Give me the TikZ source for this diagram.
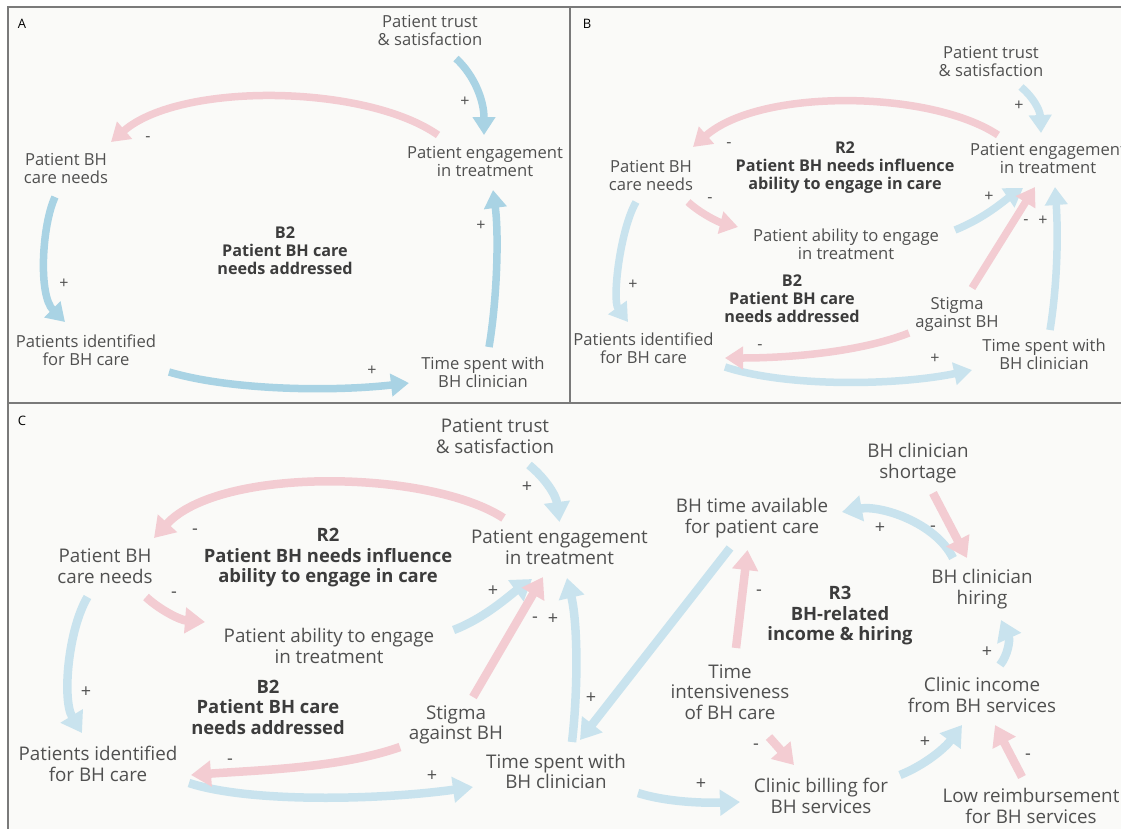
\documentclass[tikz,border=0pt]{standalone}
\usepackage{fontspec}
\setmainfont{Open Sans}
\usetikzlibrary{arrows.meta}
\definecolor{bgc}{HTML}{FAFAF8}
\definecolor{frm}{HTML}{7A7A7A}
\definecolor{bluA}{HTML}{A9D3E4}
\definecolor{blu}{HTML}{C9E3EE}
\definecolor{pnk}{HTML}{F3CCD2}
\definecolor{txt}{HTML}{505050}
\definecolor{btxt}{HTML}{3C3C3C}
\tikzset{
  lblS/.style={font=\fontsize{16.6}{18}\selectfont, align=center, text=txt, inner sep=0pt},
  lblL/.style={font=\fontsize{18.8}{20.5}\selectfont, align=center, text=txt, inner sep=0pt},
  boldS/.style={font=\fontsize{16.2}{18}\selectfont\bfseries, align=center, text=btxt, inner sep=0pt},
  boldL/.style={font=\fontsize{18.4}{20.5}\selectfont\bfseries, align=center, text=btxt, inner sep=0pt},
  sgnS/.style={font=\fontsize{16}{16}\selectfont, text=txt, inner sep=0pt},
  sgnL/.style={font=\fontsize{18}{18}\selectfont, text=txt, inner sep=0pt},
  panel/.style={font=\fontsize{13}{13}\selectfont, text=black, inner sep=0pt},
  arS/.style={line width=7.5pt, -{Triangle[width=22pt,length=18pt]}},
  arL/.style={line width=8.5pt, -{Triangle[width=25pt,length=20pt]}},
  bA/.style={arS, draw=bluA},
  bS/.style={arS, draw=blu},
  pS/.style={arS, draw=pnk},
  bL/.style={arL, draw=blu},
  pL/.style={arL, draw=pnk},
}
\begin{document}
\begin{tikzpicture}[x=1pt,y=-1pt]
\useasboundingbox (0,0) rectangle (1121,828);
\clip (0,0) rectangle (1121,828);
\fill[white] (0,0) rectangle (1121,828);
\filldraw[fill=bgc, draw=frm, line width=1.4pt] (8,7) rectangle (570,403);
\filldraw[fill=bgc, draw=frm, line width=1.4pt] (570,7) rectangle (1130,403);
\filldraw[fill=bgc, draw=frm, line width=1.4pt] (8,403) rectangle (1130,840);

% ---------------- Panel A ----------------
\node[panel] (labA) at (22,24) {A};
\node[lblS] (trustA) at (430,30.5) {Patient trust\\\& satisfaction};
\node[lblS] (engA) at (485,161) {Patient engagement\\in treatment};
\node[lblS] (needsA) at (66,168) {Patient BH\\care needs};
\node[lblS] (identA) at (86,350) {Patients identified\\for BH care};
\node[lblS] (timeA) at (483,372) {Time spent with\\BH clinician};
\node[boldS] (loopA) at (285,251) {B2\\Patient BH care\\needs addressed};

\draw[bA] ([shift={(26,28)}]trustA.center) .. controls (474,75) and (484,100) .. ([shift={(-1,-26)}]engA.center);
\draw[bA] ([shift={(-11,29)}]needsA.center) .. controls (42,225) and (38,295) .. ([shift={(-21,-28)}]identA.center);
\draw[bA] ([shift={(83,22)}]identA.center) .. controls (230,390) and (330,392) .. ([shift={(-74,11)}]timeA.center);
\draw[bA] ([shift={(6,-25)}]timeA.center) .. controls (497,300) and (499,235) .. ([shift={(8,29)}]engA.center);
\draw[pS] ([shift={(-47,-26)}]engA.center) .. controls (365,84) and (180,82) .. ([shift={(45,-26)}]needsA.center);

\node[sgnS] (sA1) at (465,102) {+};
\node[sgnS] (sA2) at (148,139) {-};
\node[sgnS] (sA3) at (64,284) {+};
\node[sgnS] (sA4) at (372,371) {+};
\node[sgnS] (sA5) at (481,226) {+};

% ---------------- Panel B ----------------
\node[panel] (labB) at (587,24) {B};
\node[lblS] (trustB) at (991,61) {Patient trust\\\& satisfaction};
\node[lblS] (engB) at (1048,158) {Patient engagement\\in treatment};
\node[lblS] (needsB) at (651,175) {Patient BH\\care needs};
\node[boldS] (r2B) at (845,168) {R2\\Patient BH needs influence\\ability to engage in care};
\node[lblS] (abilB) at (846,244.5) {Patient ability to engage\\in treatment};
\node[boldS] (b2B) at (792,299) {B2\\Patient BH care\\needs addressed};
\node[lblS] (stigB) at (957,314) {Stigma\\against BH};
\node[lblS] (identB) at (643.5,348.5) {Patients identified\\for BH care};
\node[lblS] (timeB) at (1044,354.5) {Time spent with\\BH clinician};

\draw[bS] ([shift={(30,26)}]trustB.center) .. controls (1033,97) and (1040,110) .. ([shift={(-7,-25)}]engB.center);
\draw[bS] ([shift={(-15,27)}]needsB.center) .. controls (620,230) and (612,300) .. ([shift={(-15.5,-26.5)}]identB.center);
\draw[bS] ([shift={(81.5,18.5)}]identB.center) .. controls (790,388) and (900,385) .. ([shift={(-72,15.5)}]timeB.center);
\draw[bS] ([shift={(109,-14.5)}]abilB.center) .. controls (985,218) and (1005,200) .. ([shift={(-25,30)}]engB.center);
\draw[bS] ([shift={(6,-24.5)}]timeB.center) .. controls (1058,280) and (1058,230) .. ([shift={(7,29)}]engB.center);
\draw[pS] ([shift={(-50,-23)}]engB.center) .. controls (930,90) and (760,88) .. ([shift={(42,-28)}]needsB.center);
\draw[pS] ([shift={(37,27)}]needsB.center) .. controls (700,213) and (718,222) .. ([shift={(-108,-17.5)}]abilB.center);
\draw[pS] ([shift={(15,-26)}]stigB.center) -- ([shift={(-13,29)}]engB.center);
\draw[pS] ([shift={(-48,19)}]stigB.center) .. controls (860,352) and (790,358) .. ([shift={(81.5,9.5)}]identB.center);

\node[sgnS] (sB1) at (1019,106) {+};
\node[sgnS] (sB2) at (729,145) {-};
\node[sgnS] (sB3) at (710,200) {-};
\node[sgnS] (sB4) at (989,197) {+};
\node[sgnS] (sB5) at (1026,222) {-};
\node[sgnS] (sB6) at (1043,221) {+};
\node[sgnS] (sB7) at (633,285) {+};
\node[sgnS] (sB8) at (760,347) {-};
\node[sgnS] (sB9) at (935,359) {+};

% ---------------- Panel C ----------------
\node[panel] (labC) at (22,421) {C};
\node[lblL] (trustC) at (495,436) {Patient trust\\\& satisfaction};
\node[lblL] (engC) at (559.5,547) {Patient engagement\\in treatment};
\node[lblL] (needsC) at (105,566) {Patient BH\\care needs};
\node[boldL] (r2C) at (328,558) {R2\\Patient BH needs influence\\ability to engage in care};
\node[lblL] (abilC) at (329,646) {Patient ability to engage\\in treatment};
\node[boldL] (b2C) at (268,707) {B2\\Patient BH care\\needs addressed};
\node[lblL] (stigC) at (456,725) {Stigma\\against BH};
\node[lblL] (identC) at (98,764) {Patients identified\\for BH care};
\node[lblL] (timeC) at (556,771.5) {Time spent with\\BH clinician};
\node[lblL] (availC) at (752,518) {BH time available\\for patient care};
\node[lblL] (shortC) at (918,463) {BH clinician\\shortage};
\node[lblL] (hireC) at (982,589) {BH clinician\\hiring};
\node[boldL] (r3C) at (840,616) {R3\\BH-related\\income \& hiring};
\node[lblL] (intenC) at (730,692) {Time\\intensiveness\\of BH care};
\node[lblL] (incomeC) at (982,695) {Clinic income\\from BH services};
\node[lblL] (billC) at (821,796) {Clinic billing for\\BH services};
\node[lblL] (lowC) at (1031,806) {Low reimbursement\\for BH services};

\draw[bL] ([shift={(34,29)}]trustC.center) .. controls (545,478) and (556,495) .. ([shift={(0,-25)}]engC.center);
\draw[bL] ([shift={(-17.5,31)}]needsC.center) .. controls (68,630) and (62,700) .. ([shift={(-16,-31)}]identC.center);
\draw[bL] ([shift={(91,19)}]identC.center) .. controls (250,803) and (380,800) .. ([shift={(-83,15.5)}]timeC.center);
\draw[bL] ([shift={(124.6,-16)}]abilC.center) .. controls (485,618) and (510,595) .. ([shift={(-27.5,32)}]engC.center);
\draw[bL] ([shift={(16,-29.5)}]timeC.center) .. controls (578,690) and (578,625) .. ([shift={(7.5,31)}]engC.center);
\draw[bL] ([shift={(-22,30)}]availC.center) -- ([shift={(24,-31.5)}]timeC.center);
\draw[bL] ([shift={(-29,-31)}]hireC.center) .. controls (935,522) and (880,505) .. ([shift={(90,-6)}]availC.center);
\draw[bL] ([shift={(82,21.5)}]timeC.center) .. controls (670,803) and (710,803) .. ([shift={(-81,6)}]billC.center);
\draw[bL] ([shift={(79,-21)}]billC.center) .. controls (925,765) and (945,748) .. ([shift={(-20,30)}]incomeC.center);
\draw[bL] ([shift={(18,-30)}]incomeC.center) .. controls (1008,655) and (1010,640) .. ([shift={(19,31)}]hireC.center);
\draw[pL] ([shift={(-56,-29)}]engC.center) .. controls (430,470) and (220,466) .. ([shift={(49,-28)}]needsC.center);
\draw[pL] ([shift={(41,31)}]needsC.center) .. controls (160,610) and (180,620) .. ([shift={(-124,-24)}]abilC.center);
\draw[pL] ([shift={(17,-28)}]stigC.center) -- ([shift={(-16.5,30)}]engC.center);
\draw[pL] ([shift={(-56,22)}]stigC.center) .. controls (340,768) and (260,770) .. ([shift={(93,11)}]identC.center);
\draw[pL] ([shift={(6,-44)}]intenC.center) -- ([shift={(-4.5,32)}]availC.center);
\draw[pL] ([shift={(15,30)}]shortC.center) -- ([shift={(-15,-31)}]hireC.center);
\draw[pL] ([shift={(39,45)}]intenC.center) -- ([shift={(-27,-31)}]billC.center);
\draw[pL] ([shift={(-9,-29)}]lowC.center) -- ([shift={(13,30)}]incomeC.center);

\node[sgnL] (sC1) at (527,487) {+};
\node[sgnL] (sC2) at (195,532) {-};
\node[sgnL] (sC3) at (174,595) {-};
\node[sgnL] (sC4) at (493,591) {+};
\node[sgnL] (sC5) at (535,620) {-};
\node[sgnL] (sC6) at (553,619) {+};
\node[sgnL] (sC7) at (86,692) {+};
\node[sgnL] (sC8) at (230,762) {-};
\node[sgnL] (sC9) at (432,776) {+};
\node[sgnL] (sC10) at (591,698) {+};
\node[sgnL] (sC11) at (759,593) {-};
\node[sgnL] (sC12) at (880,528) {+};
\node[sgnL] (sC13) at (933,529) {-};
\node[sgnL] (sC14) at (756,747) {-};
\node[sgnL] (sC15) at (701,784) {+};
\node[sgnL] (sC16) at (925,742) {+};
\node[sgnL] (sC17) at (987,652) {+};
\node[sgnL] (sC18) at (1028,757) {-};
\end{tikzpicture}
\end{document}
